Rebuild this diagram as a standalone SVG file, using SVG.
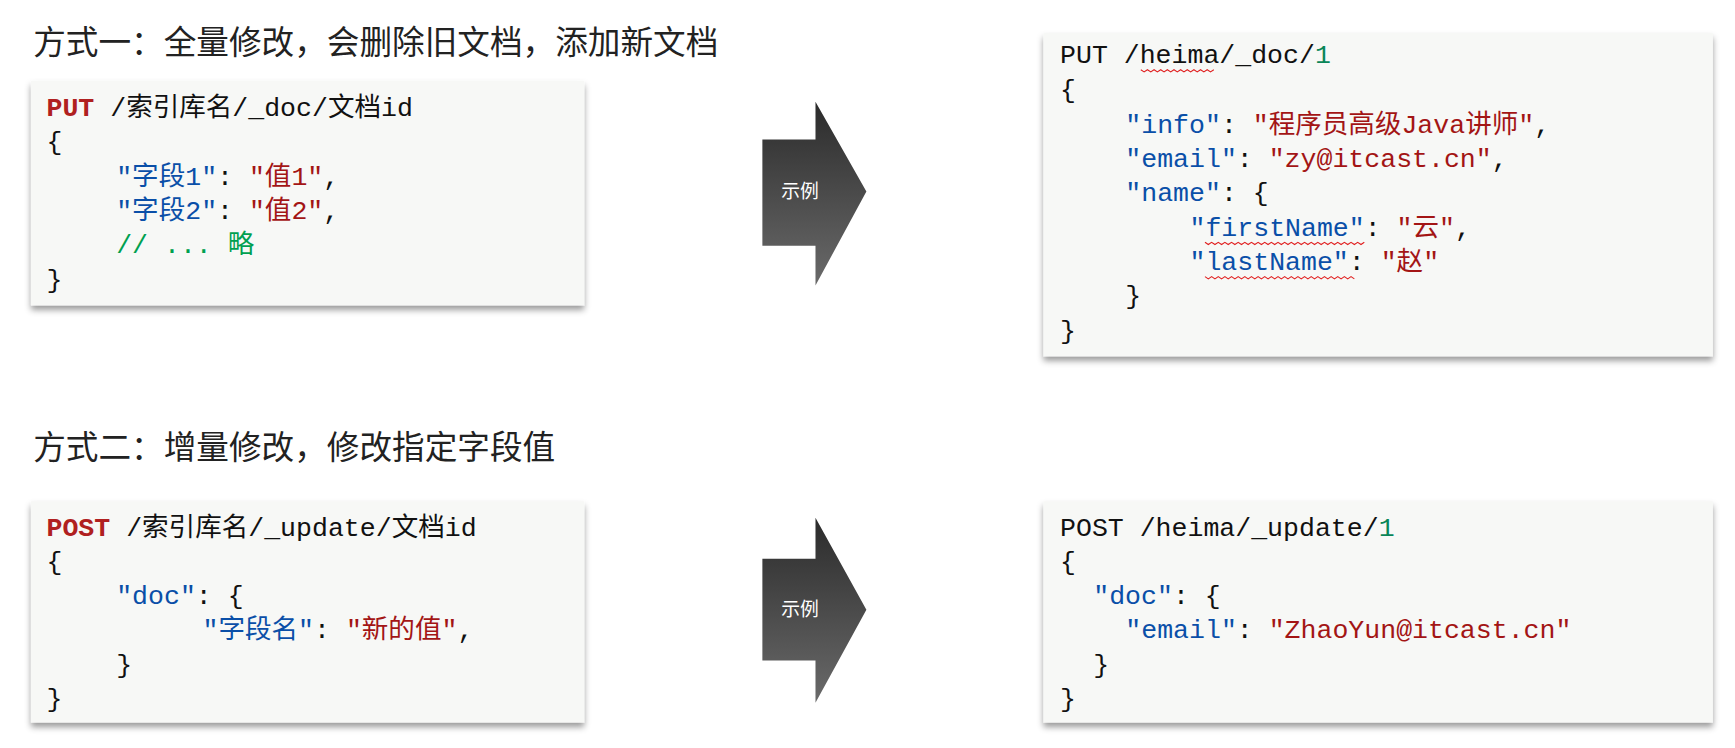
<svg xmlns="http://www.w3.org/2000/svg" width="1735" height="748" viewBox="0 0 1735 748">
<defs>
<style>
.t{font-family:"Microsoft YaHei","Noto Sans CJK SC",sans-serif;font-size:29.5px;fill:#222}
.c{font-family:"Liberation Mono","Noto Sans CJK SC",monospace;font-size:24px;fill:#111}
.k{fill:#b02020;font-weight:bold}.b{fill:#0a4fa8}.s{fill:#a31515}.g{fill:#00a050}.n{fill:#098658}
.box{fill:#f7f8f6;filter:url(#sh)}
.sq{fill:none;stroke:#e02020;stroke-width:1}
.lab{font-family:"Noto Sans CJK SC",sans-serif;font-size:17px;fill:#fff}
</style>
<filter id="sh" x="-5%" y="-5%" width="110%" height="115%"><feDropShadow dx="0" dy="4" stdDeviation="3" flood-color="#000" flood-opacity="0.4"/></filter>
<linearGradient id="ag" x1="0" y1="0" x2="0" y2="1"><stop offset="0" stop-color="#2b2b2b"/><stop offset="1" stop-color="#6a6a6a"/></linearGradient>
</defs>
<g transform="scale(1.1065)">
<text class="t" x="30" y="49">方式一：全量修改，会删除旧文档，添加新文档</text>
<text class="t" x="30" y="415">方式二：增量修改，修改指定字段值</text>
<g id="box1"><rect class="box" x="28" y="73" width="500" height="203"/>
<text class="c" x="42" y="105"><tspan class="k">PUT</tspan> /索引库名/_doc/文档id</text>
<text class="c" x="42" y="136">{</text>
<text class="c" x="105" y="167"><tspan class="b">"字段1"</tspan>: <tspan class="s">"值1"</tspan>,</text>
<text class="c" x="105" y="198"><tspan class="b">"字段2"</tspan>: <tspan class="s">"值2"</tspan>,</text>
<text class="c g" x="105" y="229">// ... 略</text>
<text class="c" x="42" y="260">}</text></g>
<g id="box2"><rect class="box" x="943" y="30" width="605" height="292"/>
<text class="c" x="958" y="57">PUT /heima/_doc/<tspan class="n">1</tspan></text>
<text class="c" x="958" y="89">{</text>
<text class="c" x="1017" y="120"><tspan class="b">"info"</tspan>: <tspan class="s">"程序员高级Java讲师"</tspan>,</text>
<text class="c" x="1017" y="151"><tspan class="b">"email"</tspan>: <tspan class="s">"zy@itcast.cn"</tspan>,</text>
<text class="c" x="1017" y="182"><tspan class="b">"name"</tspan>: {</text>
<text class="c" x="1075" y="213"><tspan class="b">"firstName"</tspan>: <tspan class="s">"云"</tspan>,</text>
<text class="c" x="1075" y="244"><tspan class="b">"lastName"</tspan>: <tspan class="s">"赵"</tspan></text>
<text class="c" x="1017" y="275">}</text>
<text class="c" x="958" y="306">}</text>
<path class="sq" d="M1031 63 l3 2 3-2 3 2 3-2 3 2 3-2 3 2 3-2 3 2 3-2 3 2 3-2 3 2 3-2 3 2 3-2 3 2 3-2 3 2 3-2 3 2 3-2"/>
<path class="sq" d="M1089 219 l3 2 3-2 3 2 3-2 3 2 3-2 3 2 3-2 3 2 3-2 3 2 3-2 3 2 3-2 3 2 3-2 3 2 3-2 3 2 3-2 3 2 3-2 3 2 3-2 3 2 3-2 3 2 3-2 3 2 3-2 3 2 3-2 3 2 3-2 3 2 3-2 3 2 3-2 3 2 3-2 3 2 3-2 3 2 3-2 3 2 3-2 3 2 3-2"/>
<path class="sq" d="M1089 250 l3 2 3-2 3 2 3-2 3 2 3-2 3 2 3-2 3 2 3-2 3 2 3-2 3 2 3-2 3 2 3-2 3 2 3-2 3 2 3-2 3 2 3-2 3 2 3-2 3 2 3-2 3 2 3-2 3 2 3-2 3 2 3-2 3 2 3-2 3 2 3-2 3 2 3-2 3 2 3-2 3 2 3-2 3 2 3-2 3 2"/></g>
<g id="box3"><rect class="box" x="28" y="453" width="500" height="200"/>
<text class="c" x="42" y="484"><tspan class="k">POST</tspan> /索引库名/_update/文档id</text>
<text class="c" x="42" y="515">{</text>
<text class="c" x="105" y="546"><tspan class="b">"doc"</tspan>: {</text>
<text class="c" x="183" y="577"><tspan class="b">"字段名"</tspan>: <tspan class="s">"新的值"</tspan>,</text>
<text class="c" x="105" y="608">}</text>
<text class="c" x="42" y="639">}</text></g>
<g id="box4"><rect class="box" x="943" y="453" width="605" height="200"/>
<text class="c" x="958" y="484">POST /heima/_update/<tspan class="n">1</tspan></text>
<text class="c" x="958" y="515">{</text>
<text class="c" x="988" y="546"><tspan class="b">"doc"</tspan>: {</text>
<text class="c" x="1017" y="577"><tspan class="b">"email"</tspan>: <tspan class="s">"ZhaoYun@itcast.cn"</tspan></text>
<text class="c" x="988" y="608">}</text>
<text class="c" x="958" y="639">}</text></g>
<g id="connectors">
<g id="arrow1"><path d="M689 126 H737 V92 L783 173 L737 258 V222 H689 Z" fill="url(#ag)"/><text class="lab" x="723" y="179" text-anchor="middle">示例</text></g>
<g id="arrow2"><path d="M689 505 H737 V468 L783 551 L737 635 V597 H689 Z" fill="url(#ag)"/><text class="lab" x="723" y="557" text-anchor="middle">示例</text></g>
</g>
</g>
</svg>
